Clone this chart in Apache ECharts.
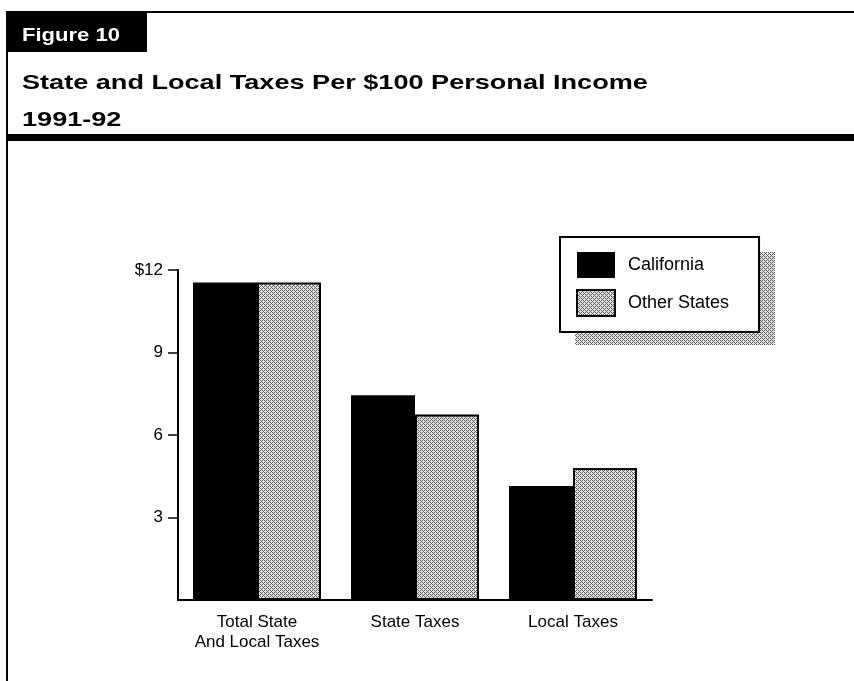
<!DOCTYPE html>
<html>
<head>
<meta charset="utf-8">
<script src="https://cdn.jsdelivr.net/npm/echarts@6/dist/echarts.min.js"></script>
<style>
html,body{margin:0;padding:0;background:#fff;}
#chart{width:854px;height:681px;}
</style>
</head>
<body>
<div id="chart"></div>
<script>
// ---- data ----
const categories = ['Total State\nAnd Local Taxes', 'State Taxes', 'Local Taxes'];
const seriesNames = ['California', 'Other States'];
const california = [11.55, 7.45, 4.15];
const otherStates = [11.55, 6.75, 4.8];
const yTickValues = [3, 6, 9, 12];
const yTickLabels = ['3', '6', '9', '$12'];
const figureLabel = 'Figure 10';
const titleLine1 = 'State and Local Taxes Per $100 Personal Income';
const titleLine2 = '1991-92';

// ---- dither pattern for "Other States" ----
function makePattern() {
  const c = document.createElement('canvas');
  c.width = 4; c.height = 4;
  const ctx = c.getContext('2d');
  const dark = '#5a5a5a', light = '#e6e6e6';
  const map = [
    [1,0,1,0],
    [0,1,0,0],
    [1,0,1,0],
    [0,0,0,1]
  ];
  for (let y = 0; y < 4; y++) for (let x = 0; x < 4; x++) {
    ctx.fillStyle = map[y][x] ? dark : light;
    ctx.fillRect(x, y, 1, 1);
  }
  return c;
}
const pat = makePattern();
const patternFill = { image: pat, repeat: 'repeat' };

const FONT = "'Liberation Sans', Arial, Helvetica, sans-serif";
const chart = echarts.init(document.getElementById('chart'), null, { renderer: 'canvas' });

const option = {
  backgroundColor: '#fff',
  animation: false,
  textStyle: { fontFamily: FONT, color: '#000' },
  grid: { left: 178, top: 270, right: 202, bottom: 81, containLabel: false },
  legend: {
    data: seriesNames,
    orient: 'vertical',
    left: 560,
    top: 237,
    itemWidth: 38,
    itemHeight: 26,
    itemGap: 11,
    padding: [15, 30, 15, 16],
    backgroundColor: '#fff',
    borderColor: '#000',
    borderWidth: 2,
    icon: 'rect',
    z: 10,
    textStyle: { fontSize: 18, color: '#000', fontFamily: FONT, padding: [0, 0, 0, 8] }
  },
  xAxis: {
    type: 'category',
    data: categories,
    boundaryGap: true,
    axisLine: { lineStyle: { color: '#000', width: 2 } },
    axisTick: { show: false },
    axisLabel: { interval: 0, fontSize: 17, color: '#000', margin: 12, lineHeight: 20, fontFamily: FONT }
  },
  yAxis: {
    type: 'value',
    min: 0,
    max: 12,
    interval: 3,
    axisLine: { show: true, lineStyle: { color: '#000', width: 2 } },
    axisTick: { show: true, length: 10, customValues: yTickValues, lineStyle: { color: '#000', width: 1.5 } },
    splitLine: { show: false },
    axisLabel: {
      fontSize: 17, color: '#000', margin: 15, fontFamily: FONT,
      customValues: yTickValues,
      formatter: function (v) {
        const i = yTickValues.indexOf(v);
        return i >= 0 ? yTickLabels[i] : '';
      }
    }
  },
  series: [
    {
      name: seriesNames[0],
      type: 'bar',
      data: california,
      barWidth: 64,
      barGap: '0%',
      itemStyle: { color: '#000', borderColor: '#000', borderWidth: 0 }
    },
    {
      name: seriesNames[1],
      type: 'bar',
      data: otherStates,
      barWidth: 64,
      barGap: '0%',
      itemStyle: { color: patternFill, borderColor: '#000', borderWidth: 2 }
    }
  ],
  graphic: [
    // frame lines
    { type: 'rect', shape: { x: 6, y: 11, width: 848, height: 2 }, style: { fill: '#000' }, z: 1 },
    { type: 'rect', shape: { x: 6, y: 11, width: 2, height: 670 }, style: { fill: '#000' }, z: 1 },
    { type: 'rect', shape: { x: 6, y: 134, width: 848, height: 7 }, style: { fill: '#000' }, z: 1 },
    // figure label box
    { type: 'rect', shape: { x: 8, y: 12, width: 139, height: 40 }, style: { fill: '#000' }, z: 1 },
    { type: 'text', x: 22, y: 36, scaleX: 1.16, z: 2,
      style: { text: figureLabel, fill: '#fff', font: "bold 19px " + FONT, verticalAlign: 'middle' } },
    // titles
    { type: 'text', x: 22, y: 83, scaleX: 1.29, z: 2,
      style: { text: titleLine1, fill: '#000', font: "bold 21px " + FONT, verticalAlign: 'middle' } },
    { type: 'text', x: 22, y: 120, scaleX: 1.29, z: 2,
      style: { text: titleLine2, fill: '#000', font: "bold 21px " + FONT, verticalAlign: 'middle' } },
    // legend shadow
    { type: 'rect', shape: { x: 575, y: 252, width: 200, height: 93 }, style: { fill: patternFill }, z: 1 }
  ]
};
chart.setOption(option);
</script>
</body>
</html>
